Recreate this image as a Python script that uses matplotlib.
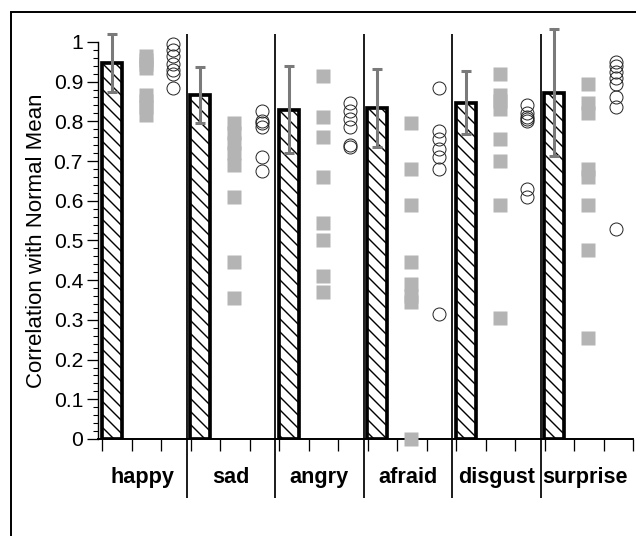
import matplotlib
matplotlib.use("Agg")
import matplotlib.pyplot as plt
import numpy as np
from matplotlib.patches import Rectangle

plt.rcParams['font.family'] = ['Liberation Sans', 'DejaVu Sans']
plt.rcParams['hatch.linewidth'] = 1.3

categories = ["happy", "sad", "angry", "afraid", "disgust", "surprise"]
bar_means = [0.947, 0.866, 0.829, 0.833, 0.847, 0.872]
bar_errors = [0.072, 0.07, 0.11, 0.098, 0.08, 0.16]

squares_happy = [0.965, 0.955, 0.945, 0.935, 0.865, 0.85, 0.835, 0.815]
squares_sad = [0.795, 0.77, 0.745, 0.72, 0.69, 0.61, 0.445, 0.355]
squares_angry = [0.915, 0.81, 0.76, 0.66, 0.545, 0.50, 0.41, 0.37]
squares_afraid = [0.795, 0.68, 0.59, 0.445, 0.39, 0.36, 0.345, 0.0]
squares_disgust = [0.92, 0.865, 0.85, 0.83, 0.755, 0.70, 0.59, 0.305]
squares_surprise = [0.895, 0.845, 0.82, 0.68, 0.66, 0.59, 0.475, 0.255]

circles_happy = [0.995, 0.98, 0.965, 0.945, 0.93, 0.92, 0.885]
circles_sad = [0.825, 0.80, 0.795, 0.785, 0.71, 0.675]
circles_angry = [0.845, 0.825, 0.805, 0.785, 0.74, 0.735]
circles_afraid = [0.885, 0.775, 0.755, 0.73, 0.71, 0.68, 0.315]
circles_disgust = [0.84, 0.82, 0.81, 0.805, 0.80, 0.63, 0.61]
circles_surprise = [0.95, 0.94, 0.925, 0.91, 0.895, 0.86, 0.835, 0.53]

squares = [squares_happy, squares_sad, squares_angry, squares_afraid,
           squares_disgust, squares_surprise]
circles = [circles_happy, circles_sad, circles_angry, circles_afraid,
           circles_disgust, circles_surprise]

ylabel = "Correlation with Normal Mean"
yticks = [0, 0.1, 0.2, 0.3, 0.4, 0.5, 0.6, 0.7, 0.8, 0.9, 1]
yticklabels = ["0", "0.1", "0.2", "0.3", "0.4", "0.5", "0.6", "0.7", "0.8", "0.9", "1"]

DPI = 78
fig = plt.figure(figsize=(636 / DPI, 536 / DPI), dpi=DPI)
fig.patch.set_facecolor("white")

# axes placement (pixel based)
x_left_px, x_right_px = 98.2, 633.0
y0_px, y_top_px = 439.0, 26.0
ax = fig.add_axes([x_left_px / 636, (536 - y0_px) / 536,
                   (x_right_px - x_left_px) / 636, (y0_px - y_top_px) / 536])
ax.set_xlim(-0.13, 18.0)
ax.set_ylim(0, 1.04)
ax.patch.set_alpha(0)

for s in ["top", "right"]:
    ax.spines[s].set_visible(False)
ax.spines["left"].set_bounds(0, 1)
ax.spines["left"].set_linewidth(1.3)
ax.spines["bottom"].set_linewidth(1.8)

n = len(categories)
bar_x = [3 * g - 0.015 for g in range(n)]
bar_w = 0.68
ax.bar(bar_x, bar_means, width=bar_w, align="edge", facecolor="white",
       edgecolor="black", linewidth=3.4, hatch="\\\\", zorder=3)
centers = [bx + bar_w / 2 for bx in bar_x]
ax.errorbar(centers, bar_means, yerr=bar_errors, fmt="none", ecolor="#7a7a7a",
            elinewidth=2.8, capsize=5, capthick=2.8, zorder=4)

for g in range(n):
    xs = np.full(len(squares[g]), 3 * g + 1.48)
    ax.plot(xs, squares[g], linestyle="none", marker="s", markersize=12.5,
            markerfacecolor="#b4b4b4", markeredgecolor="none", zorder=5,
            clip_on=False)
    xc = np.full(len(circles[g]), 3 * g + 2.42)
    ax.plot(xc, circles[g], linestyle="none", marker="o", markersize=12.0,
            markerfacecolor="none", markeredgecolor="#222222",
            markeredgewidth=0.9, zorder=5, clip_on=False)

# separators
sep_x = [3 * g - 0.12 for g in range(1, n)]
ax.vlines(sep_x, -0.149, 1.02, colors="black", linewidth=1.6, clip_on=False,
          zorder=6)

# ticks
ax.set_yticks(yticks)
ax.set_yticklabels(yticklabels)
ax.set_yticks(np.arange(0, 1.001, 0.02), minor=True)
ax.tick_params(axis="y", which="major", direction="out", length=10, width=1.2,
               labelsize=19.5, pad=4)
ax.tick_params(axis="y", which="minor", direction="out", length=4.5, width=1.0)
ax.set_xticks(np.arange(0, 19, 1))
ax.set_xticklabels([])
ax.tick_params(axis="x", which="major", direction="out", length=11, width=1.2)

ax.text(-0.115, 0.5, ylabel, transform=ax.get_yaxis_transform(), rotation=90,
        ha="center", va="center", fontsize=20.5)

for g, c in enumerate(categories):
    ax.text(3 * g + 1.36, -0.098, c, ha="center", va="center", fontsize=20,
            fontweight="bold", clip_on=False)

# outer frame (left and top edges visible)
fig.add_artist(Rectangle((11 / 636, -0.2), 1.5, (536 - 12) / 536 + 0.2,
                         transform=fig.transFigure, fill=False,
                         edgecolor="black", linewidth=1.8))

fig.savefig("out.png", dpi=DPI)
